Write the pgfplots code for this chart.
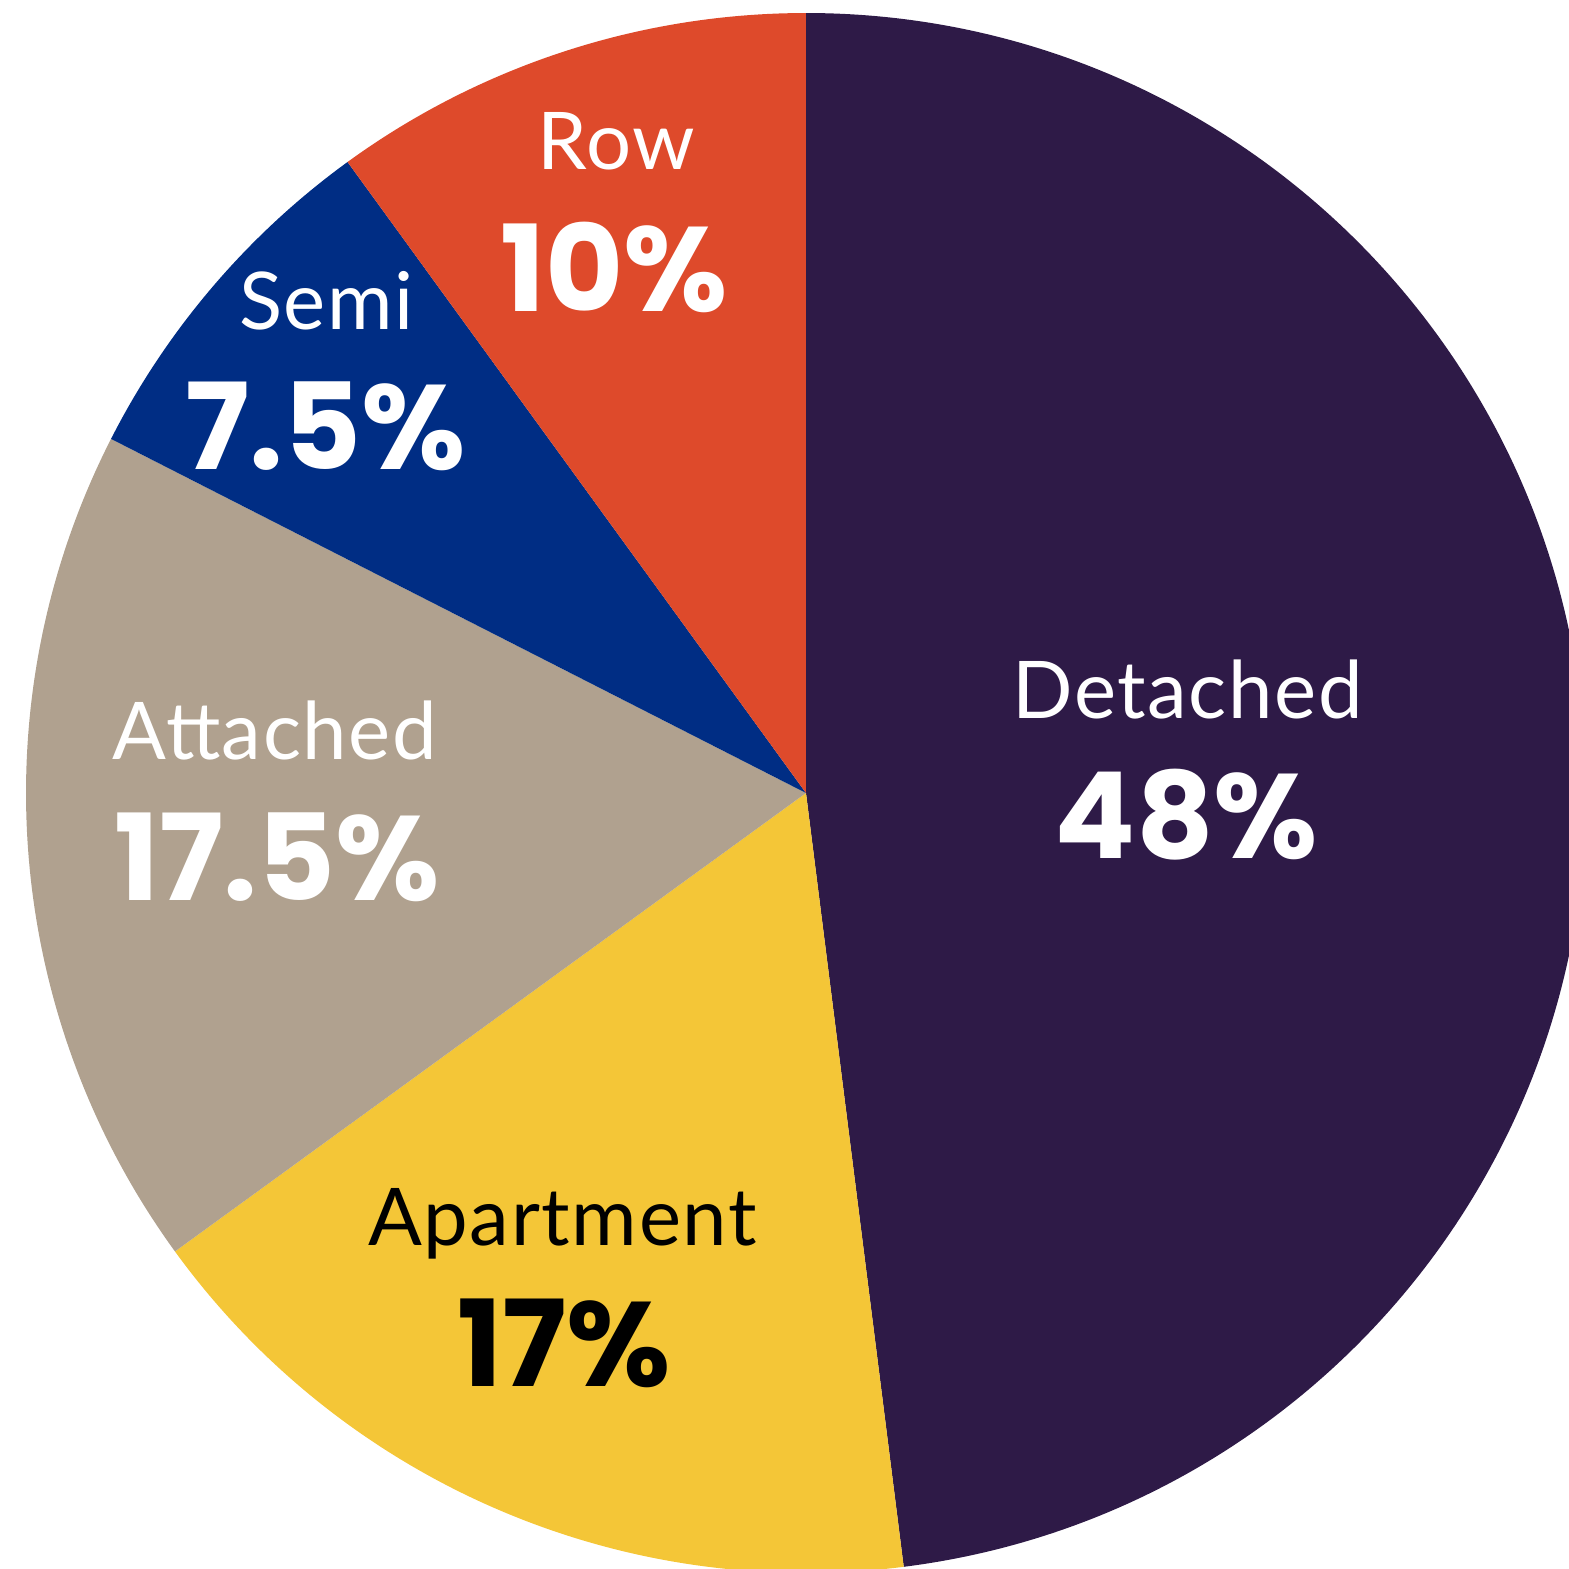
\documentclass[border=0pt]{standalone}
\usepackage{pgfplots}
\usepackage{pgfplotstable}
\pgfplotsset{compat=1.18}
\usepackage{fontspec}
\setmainfont{Lato}[LetterSpace=2]
\newfontfamily\numfont{Poppins}
\definecolor{cDet}{HTML}{2E1A47}
\definecolor{cApt}{HTML}{F4C637}
\definecolor{cAtt}{HTML}{B0A18F}
\definecolor{cSemi}{HTML}{002D84}
\definecolor{cRow}{HTML}{DE4A2B}
\pgfplotstableread{
label pct
Detached 48
Apartment 17
Attached 17.5
Semi 7.5
Row 10
}\piedata
\begin{document}%
\begin{tikzpicture}
\pgfplotstablegetelem{0}{pct}\of\piedata \let\pA\pgfplotsretval
\pgfplotstablegetelem{1}{pct}\of\piedata \let\pB\pgfplotsretval
\pgfplotstablegetelem{2}{pct}\of\piedata \let\pC\pgfplotsretval
\pgfplotstablegetelem{3}{pct}\of\piedata \let\pD\pgfplotsretval
\pgfplotstablegetelem{4}{pct}\of\piedata \let\pE\pgfplotsretval
\pgfmathsetmacro\aA{90}
\pgfmathsetmacro\aB{\aA-3.6*\pA}
\pgfmathsetmacro\aC{\aB-3.6*\pB}
\pgfmathsetmacro\aD{\aC-3.6*\pC}
\pgfmathsetmacro\aE{\aD-3.6*\pD}
\pgfmathsetmacro\aF{\aE-3.6*\pE}
\def\R{198.85pt}
\begin{axis}[
  width=400pt, height=400pt, scale only axis,
  xmin=0, xmax=400, ymin=0, ymax=400,
  hide axis, clip=true,
]
\coordinate (BL) at (axis cs:0,0);
\coordinate (TR) at (axis cs:400,400);
\fill[cDet]  (axis cs:205.48,197.83) -- ++(\aA:\R) arc[start angle=\aA, end angle=\aB, radius=\R] -- cycle;
\fill[cApt]  (axis cs:205.48,197.83) -- ++(\aB:\R) arc[start angle=\aB, end angle=\aC, radius=\R] -- cycle;
\fill[cAtt]  (axis cs:205.48,197.83) -- ++(\aC:\R) arc[start angle=\aC, end angle=\aD, radius=\R] -- cycle;
\fill[cSemi] (axis cs:205.48,197.83) -- ++(\aD:\R) arc[start angle=\aD, end angle=\aE, radius=\R] -- cycle;
\fill[cRow]  (axis cs:205.48,197.83) -- ++(\aE:\R) arc[start angle=\aE, end angle=\aF, radius=\R] -- cycle;
\begin{scope}[every node/.style={inner sep=0pt, anchor=base}]
\node[text=white, font=\fontsize{20.3}{24}\selectfont] at (axis cs:157.17,356.91) {Row};
\node[text=white, font=\fontsize{30.6}{36}\selectfont\numfont\bfseries] at (axis cs:156.53,320.71) {10\%};
\node[text=white, font=\fontsize{20.3}{24}\selectfont] at (axis cs:83.24,315.87) {Semi};
\node[text=white, font=\fontsize{30.6}{36}\selectfont\numfont\bfseries] at (axis cs:83.11,280.18) {7.5\%};
\node[text=white, font=\fontsize{20.3}{24}\selectfont] at (axis cs:70.11,206.25) {Attached};
\node[text=white, font=\fontsize{30.6}{36}\selectfont\numfont\bfseries] at (axis cs:70.62,170.30) {17.5\%};
\node[text=white, font=\fontsize{20.3}{24}\selectfont] at (axis cs:302.74,216.95) {Detached};
\node[text=white, font=\fontsize{30.6}{36}\selectfont\numfont\bfseries] at (axis cs:302.49,181.01) {48\%};
\node[text=black, font=\fontsize{20.3}{24}\selectfont] at (axis cs:143.40,82.35) {Apartment};
\node[text=black, font=\fontsize{30.6}{36}\selectfont\numfont\bfseries] at (axis cs:143.79,46.40) {17\%};
\end{scope}
\end{axis}
\pgfresetboundingbox
\path[use as bounding box] (BL) rectangle (TR);
\end{tikzpicture}%
\end{document}
